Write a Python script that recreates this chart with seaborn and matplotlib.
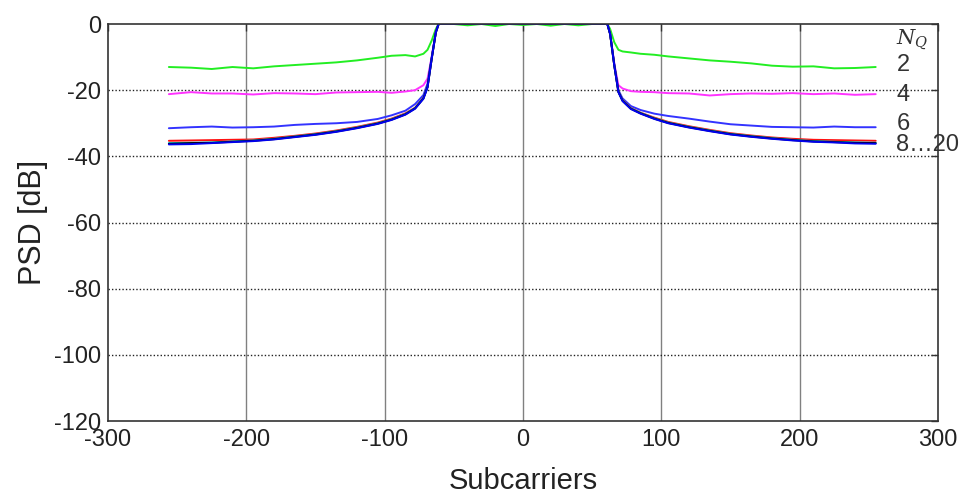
import matplotlib
matplotlib.use('Agg')
import matplotlib.pyplot as plt
import seaborn as sns

# subcarrier positions (shared by every curve)
SUBC = [-256, -240, -225, -210, -195, -180, -165, -150, -135, -120, -105, -95, -85, -78, -72, -69, -66, -63, -61,
        -50, -40, -30, -20, -10, 0, 10, 20, 30, 40, 50,
        61, 63, 66, 69, 72, 78, 85, 95, 105, 120, 135, 150, 165, 180, 195, 210, 225, 240, 255]

PSD_NQ2 = [-13.0, -13.2, -13.6, -13.0, -13.4, -12.8, -12.4, -12.0, -11.6, -11.0, -10.2, -9.6, -9.4, -9.8, -9.0, -7.8, -5.0, -1.5, 0.0,
           0.0, -0.4, 0.0, -0.6, 0.0, -0.3, 0.0, -0.5, 0.0, -0.4, 0.0,
           0.0, -1.5, -5.5, -7.8, -8.3, -8.6, -9.0, -9.3, -9.8, -10.4, -11.0, -11.4, -11.9, -12.6, -12.9, -12.8, -13.4, -13.3, -13.0]
PSD_NQ4 = [-21.2, -20.6, -21.0, -21.0, -21.3, -20.9, -21.0, -21.2, -20.7, -20.6, -20.5, -20.8, -20.4, -20.0, -18.5, -16.5, -10.0, -2.5, 0.0,
           0.0, 0.0, 0.0, 0.0, 0.0, 0.0, 0.0, 0.0, 0.0, 0.0, 0.0,
           0.0, -3.0, -12.0, -18.5, -19.5, -20.3, -20.5, -20.6, -20.9, -21.0, -21.6, -21.2, -21.0, -21.1, -20.9, -21.2, -21.0, -21.4, -21.2]
PSD_NQ6 = [-31.5, -31.2, -31.0, -31.3, -31.2, -31.0, -30.5, -30.2, -30.0, -29.6, -28.7, -27.6, -26.2, -24.2, -21.5, -18.0, -10.0, -2.5, 0.0,
           0.0, 0.0, 0.0, 0.0, 0.0, 0.0, 0.0, 0.0, 0.0, 0.0, 0.0,
           0.0, -3.0, -12.0, -20.0, -22.5, -24.8, -26.0, -27.1, -27.8, -28.6, -29.5, -30.3, -30.7, -31.1, -31.2, -31.3, -31.0, -31.2, -31.2]
PSD_NQ8 = [-35.3, -35.2, -35.1, -35.0, -34.9, -34.4, -33.8, -33.1, -32.2, -31.1, -29.8, -28.6, -27.0, -25.3, -22.3, -19.0, -10.5, -2.5, 0.0,
           0.0, 0.0, 0.0, 0.0, 0.0, 0.0, 0.0, 0.0, 0.0, 0.0, 0.0,
           0.0, -3.0, -12.5, -20.5, -23.0, -25.4, -26.8, -28.3, -29.6, -30.9, -32.0, -33.0, -33.7, -34.3, -34.7, -35.0, -35.1, -35.2, -35.3]
PSD_NQ12 = [-36.0, -35.9, -35.8, -35.5, -35.2, -34.7, -34.0, -33.3, -32.4, -31.3, -30.0, -28.8, -27.2, -25.4, -22.4, -19.0, -10.5, -2.5, 0.0,
            0.0, 0.0, 0.0, 0.0, 0.0, 0.0, 0.0, 0.0, 0.0, 0.0, 0.0,
            0.0, -3.0, -12.5, -20.5, -23.1, -25.5, -26.9, -28.5, -29.8, -31.1, -32.2, -33.2, -33.9, -34.5, -35.0, -35.4, -35.6, -35.8, -35.9]
PSD_NQ16 = [-36.2, -36.0, -35.9, -35.6, -35.3, -34.8, -34.1, -33.4, -32.5, -31.4, -30.1, -28.9, -27.3, -25.5, -22.5, -19.0, -10.5, -2.5, 0.0,
            0.0, 0.0, 0.0, 0.0, 0.0, 0.0, 0.0, 0.0, 0.0, 0.0, 0.0,
            0.0, -3.0, -12.5, -20.5, -23.2, -25.6, -27.0, -28.6, -29.9, -31.2, -32.3, -33.3, -34.0, -34.6, -35.1, -35.5, -35.7, -35.9, -36.0]
PSD_NQ20 = [-36.4, -36.3, -36.0, -35.7, -35.4, -34.9, -34.2, -33.5, -32.6, -31.5, -30.2, -29.0, -27.4, -25.6, -22.6, -19.2, -10.5, -2.5, 0.0,
            0.0, 0.0, 0.0, 0.0, 0.0, 0.0, 0.0, 0.0, 0.0, 0.0, 0.0,
            0.0, -3.0, -12.5, -20.6, -23.3, -25.7, -27.1, -28.7, -30.0, -31.3, -32.4, -33.4, -34.1, -34.7, -35.2, -35.6, -35.8, -36.1, -36.2]

CURVES = [PSD_NQ2, PSD_NQ4, PSD_NQ6, PSD_NQ8, PSD_NQ12, PSD_NQ16, PSD_NQ20]
COLORS = ['#22ee22', '#ff33ff', '#3333ff', '#ff1111', '#00cccc', '#000000', '#0000ee']

LABELS = ['2', '4', '6', '8…20']
LABEL_Y = [-12.3, -21.4, -30.1, -36.7]

X_TICKS = [-300, -200, -100, 0, 100, 200, 300]
Y_TICKS = [-120, -100, -80, -60, -40, -20, 0]

sns.set_style('white')
plt.rcParams['font.family'] = ['Liberation Sans', 'DejaVu Sans']
plt.rcParams['mathtext.fontset'] = 'dejavuserif'

fig = plt.figure(figsize=(9.61, 4.98), dpi=100)
ax = fig.add_axes([0.1124, 0.1546, 0.8636, 0.7972])

for vals, c in zip(CURVES, COLORS):
    sns.lineplot(x=SUBC, y=vals, color=c, linewidth=1.4, ax=ax, sort=False)

ax.set_xlim(-300, 300)
ax.set_ylim(-120, 0)
ax.set_xticks(X_TICKS)
ax.set_yticks(Y_TICKS)
ax.set_xticklabels([str(t) for t in X_TICKS], fontsize=17, color='#222222')
ax.set_yticklabels([str(t) for t in Y_TICKS], fontsize=17, color='#222222')
ax.tick_params(direction='in', length=5, width=1, color='#333333',
               top=True, right=True)
ax.tick_params(axis='x', pad=6)
ax.tick_params(axis='y', pad=5)

# grids: vertical solid grey, horizontal dotted black
for xv in X_TICKS[1:-1]:
    ax.axvline(xv, color='#808080', linewidth=1, zorder=0)
for yv in Y_TICKS[1:-1]:
    ax.axhline(yv, color='#222222', linewidth=1, linestyle=(0, (1, 1.5)), zorder=0)

for s in ax.spines.values():
    s.set_color('#333333')
    s.set_linewidth(1.2)

ax.set_xlabel('Subcarriers', fontsize=21, labelpad=11, color='#222222')
ax.set_ylabel('PSD [dB]', fontsize=22, labelpad=4, color='#222222')

ax.text(270, -4.8, r'$N_Q$', fontsize=15, ha='left', va='center', color='#333333')
for lab, yv in zip(LABELS, LABEL_Y):
    ax.text(270, yv, lab, fontsize=17, ha='left', va='center', color='#333333', clip_on=False)

fig.savefig('out.png', dpi=100)
